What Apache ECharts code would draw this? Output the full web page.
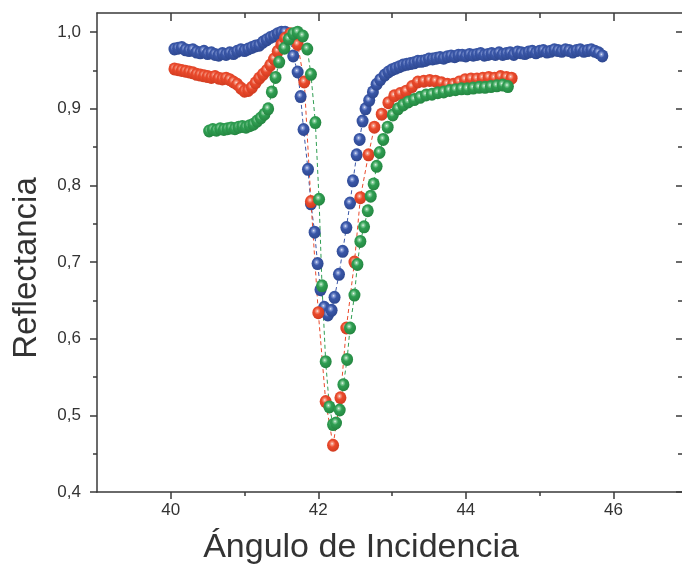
<!DOCTYPE html>
<html><head><meta charset="utf-8">
<script src="https://cdn.jsdelivr.net/npm/echarts@6/dist/echarts.min.js"></script>
<style>html,body{margin:0;padding:0;background:#fff}#c{width:682px;height:566px}</style>
</head><body><div id="c"></div>
<script>
const xMajorTicks = [40, 42, 44, 46];
const xMinorTicks = [41, 43, 45];
const yMajorTicks = [0.4, 0.5, 0.6, 0.7, 0.8, 0.9, 1.0];
const yMinorTicks = [0.45, 0.55, 0.65, 0.75, 0.85, 0.95];
const xTitle = 'Ángulo de Incidencia';
const yTitle = 'Reflectancia';

const blueData = [[40.05,0.978],[40.10,0.979],[40.15,0.980],[40.20,0.977],[40.25,0.976],[40.30,0.977],[40.35,0.974],[40.40,0.973],[40.45,0.975],[40.50,0.972],[40.55,0.973],[40.60,0.971],[40.65,0.970],[40.70,0.972],[40.75,0.971],[40.80,0.973],[40.85,0.972],[40.90,0.975],[40.95,0.977],[41.00,0.976],[41.05,0.978],[41.10,0.980],[41.15,0.982],[41.20,0.983],[41.25,0.987],[41.30,0.990],[41.35,0.993],[41.40,0.995],[41.45,0.998],[41.50,1.000],[41.55,1.000],[41.61,0.994],[41.66,0.969],[41.72,0.948],[41.76,0.916],[41.80,0.873],[41.86,0.821],[41.90,0.776],[41.95,0.739],[41.99,0.698],[42.03,0.664],[42.08,0.641],[42.13,0.631],[42.18,0.637],[42.22,0.654],[42.28,0.684],[42.33,0.714],[42.38,0.745],[42.43,0.777],[42.47,0.806],[42.52,0.840],[42.56,0.860],[42.60,0.884],[42.64,0.900],[42.69,0.911],[42.74,0.922],[42.79,0.932],[42.84,0.938],[42.90,0.944],[42.95,0.948],[43.00,0.951],[43.05,0.953],[43.10,0.955],[43.15,0.957],[43.20,0.958],[43.25,0.959],[43.30,0.960],[43.35,0.962],[43.40,0.962],[43.45,0.963],[43.50,0.965],[43.55,0.965],[43.60,0.966],[43.65,0.967],[43.70,0.966],[43.75,0.968],[43.80,0.969],[43.85,0.968],[43.90,0.970],[43.95,0.970],[44.00,0.969],[44.05,0.971],[44.10,0.970],[44.15,0.971],[44.20,0.972],[44.25,0.970],[44.30,0.971],[44.35,0.972],[44.40,0.971],[44.45,0.973],[44.50,0.971],[44.55,0.972],[44.60,0.973],[44.65,0.971],[44.70,0.974],[44.75,0.973],[44.80,0.972],[44.85,0.974],[44.90,0.975],[44.95,0.973],[45.00,0.975],[45.05,0.976],[45.10,0.974],[45.15,0.975],[45.20,0.977],[45.25,0.976],[45.30,0.975],[45.35,0.977],[45.40,0.976],[45.45,0.974],[45.50,0.976],[45.55,0.977],[45.60,0.975],[45.65,0.976],[45.70,0.977],[45.75,0.975],[45.80,0.973],[45.85,0.969]];

const redData = [[40.05,0.952],[40.10,0.951],[40.15,0.950],[40.20,0.949],[40.25,0.948],[40.30,0.947],[40.35,0.945],[40.40,0.944],[40.45,0.943],[40.50,0.942],[40.55,0.941],[40.60,0.942],[40.65,0.940],[40.70,0.939],[40.75,0.940],[40.80,0.938],[40.85,0.935],[40.90,0.932],[40.95,0.927],[41.00,0.923],[41.05,0.924],[41.10,0.928],[41.15,0.934],[41.20,0.940],[41.25,0.945],[41.30,0.950],[41.35,0.957],[41.40,0.965],[41.45,0.975],[41.50,0.984],[41.55,0.992],[41.62,0.998],[41.72,0.984],[41.81,0.935],[41.90,0.779],[42.00,0.634],[42.10,0.518],[42.20,0.461],[42.30,0.523],[42.38,0.614],[42.49,0.700],[42.57,0.784],[42.68,0.840],[42.76,0.876],[42.86,0.893],[42.95,0.908],[43.03,0.917],[43.11,0.920],[43.19,0.923],[43.27,0.929],[43.35,0.935],[43.43,0.936],[43.51,0.937],[43.59,0.936],[43.67,0.934],[43.75,0.932],[43.83,0.932],[43.91,0.935],[43.99,0.938],[44.07,0.939],[44.15,0.939],[44.23,0.940],[44.31,0.941],[44.39,0.940],[44.47,0.942],[44.55,0.941],[44.62,0.940]];

const greenData = [[40.52,0.871],[40.57,0.873],[40.62,0.872],[40.67,0.874],[40.72,0.873],[40.77,0.874],[40.82,0.875],[40.87,0.874],[40.92,0.876],[40.97,0.877],[41.02,0.876],[41.07,0.878],[41.12,0.880],[41.17,0.884],[41.22,0.888],[41.27,0.893],[41.32,0.900],[41.37,0.922],[41.42,0.941],[41.47,0.961],[41.54,0.979],[41.60,0.991],[41.66,0.998],[41.72,1.000],[41.79,0.995],[41.85,0.978],[41.90,0.945],[41.96,0.882],[42.01,0.782],[42.05,0.669],[42.10,0.570],[42.15,0.511],[42.20,0.488],[42.24,0.490],[42.29,0.507],[42.34,0.540],[42.39,0.573],[42.43,0.614],[42.49,0.657],[42.53,0.697],[42.57,0.727],[42.62,0.746],[42.67,0.767],[42.71,0.786],[42.75,0.802],[42.79,0.825],[42.83,0.843],[42.88,0.860],[42.94,0.876],[43.01,0.892],[43.08,0.900],[43.15,0.905],[43.22,0.909],[43.30,0.912],[43.38,0.915],[43.46,0.918],[43.54,0.919],[43.62,0.921],[43.70,0.922],[43.78,0.924],[43.86,0.925],[43.94,0.926],[44.02,0.926],[44.10,0.927],[44.18,0.928],[44.26,0.928],[44.34,0.929],[44.42,0.930],[44.50,0.931],[44.57,0.929]];

const FONT = '"Liberation Sans", Arial, Helvetica, sans-serif';
const AX = '#3a3a3a';
const chart = echarts.init(document.getElementById('c'), null, {renderer: 'canvas'});

function ball(hi, base, dark) {
  return new echarts.graphic.RadialGradient(0.42, 0.38, 0.65, [
    {offset: 0, color: '#f4f4f4'},
    {offset: 0.13, color: hi},
    {offset: 0.4, color: base},
    {offset: 1, color: dark}
  ]);
}

const X = {min: 39, max: 46.93, type: 'value', splitLine: {show: false}};
const Y = {min: 0.4, max: 1.025, type: 'value', splitLine: {show: false}};

function xAx(position, values, len, inside, line, labels) {
  return Object.assign({}, X, {
    position: position,
    axisLine: {show: line, onZero: false, lineStyle: {color: AX, width: 1.5}},
    axisTick: {show: true, inside: inside, length: len, customValues: values, lineStyle: {color: AX, width: 1.5}},
    axisLabel: labels ? {show: true, customValues: xMajorTicks, margin: 10, fontSize: 17, color: '#333', fontFamily: FONT} : {show: false}
  });
}
function yAx(position, values, len, inside, line, labels) {
  return Object.assign({}, Y, {
    position: position,
    axisLine: {show: line, onZero: false, lineStyle: {color: AX, width: 1.5}},
    axisTick: {show: true, inside: inside, length: len, customValues: values, lineStyle: {color: AX, width: 1.5}},
    axisLabel: labels ? {show: true, customValues: yMajorTicks, margin: 16, fontSize: 17, color: '#333', fontFamily: FONT,
      formatter: v => v.toFixed(1).replace('.', ',')} : {show: false}
  });
}

function ser(name, data, hi, base, dark) {
  return {
    name: name, type: 'line', data: data, xAxisIndex: 0, yAxisIndex: 0,
    symbol: 'circle', symbolSize: [12, 13], showSymbol: true,
    lineStyle: {color: base, width: 1, type: [4, 3]},
    itemStyle: {color: ball(hi, base, dark), borderWidth: 0},
    emphasis: {disabled: true}
  };
}

chart.setOption({
  animation: false,
  backgroundColor: '#fff',
  grid: {left: 97, right: 0, top: 13, bottom: 74},
  xAxis: [
    xAx('bottom', xMajorTicks, 7, false, true, true),
    xAx('bottom', xMinorTicks, 4, false, false, false),
    xAx('top', xMajorTicks, 8, true, true, false),
    xAx('top', xMinorTicks, 5, true, false, false)
  ],
  yAxis: [
    yAx('left', yMajorTicks, 7, false, true, true),
    yAx('left', yMinorTicks, 4, false, false, false),
    yAx('right', yMajorTicks, 6, true, false, false),
    yAx('right', yMinorTicks, 4, true, false, false)
  ],
  series: [
    ser('azul', blueData, '#8fa3dc', '#3a57a8', '#2c468e'),
    ser('rojo', redData, '#f7a08c', '#ea4a2c', '#cf3a1f'),
    ser('verde', greenData, '#8fd3a3', '#2f9e52', '#23843f')
  ],
  graphic: [
    {type: 'text', x: 361, y: 548, style: {text: xTitle, font: '34px ' + FONT, fill: '#333', textAlign: 'center', textVerticalAlign: 'middle'}},
    {type: 'text', x: 27, y: 268, rotation: Math.PI / 2, style: {text: yTitle, font: '33px ' + FONT, fill: '#333', textAlign: 'center', textVerticalAlign: 'middle'}}
  ]
});
</script>
</body></html>
